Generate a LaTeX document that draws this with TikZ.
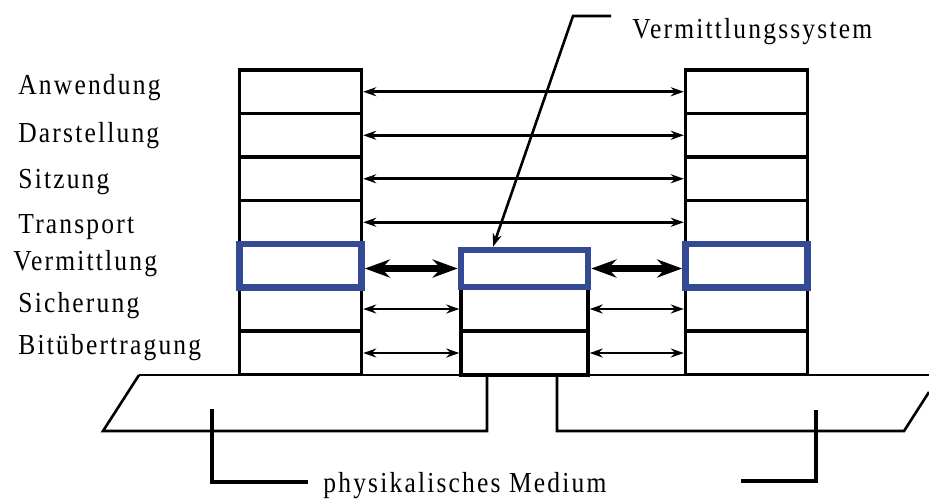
\documentclass[tikz,border=0pt]{standalone}
\usepackage{fontspec}
\setmainfont{Liberation Serif}[FakeStretch=0.88,LetterSpace=7.5]
\definecolor{colnet}{RGB}{52,74,148}
\usetikzlibrary{
	arrows.meta,
	positioning
}
\tikzset{
	>={Stealth[length=6.5pt,width=4.5pt]},
	layer/.style={draw, line width=1.7pt, minimum width=61pt, minimum height=21.75pt, inner sep=0pt},
	netlayer/.style={layer, draw=colnet, line width=3.3pt},
	peer/.style={<->, line width=1.3pt},
	netpeer/.style={{Stealth[length=12.5pt,width=9pt]}-{Stealth[length=12.5pt,width=9pt]}, line width=3.8pt},
	medium/.style={line width=1.3pt},
	bracket/.style={line width=1.8pt},
	callout/.style={->, line width=1.3pt},
	layername/.style={anchor=base west, inner sep=0pt, font=\fontsize{14.5}{17}\selectfont}
}

\begin{document}
\begin{tikzpicture}[x=0.5pt, y=-0.5pt]
	\useasboundingbox (0,0) rectangle (929,500);
	% end systems
	\foreach \stack/\x in {L/300.5, R/746.5} {
		\foreach \i in {1,2,3,4,6,7}
			\node[layer] (\stack\i) at (\x, 48.25+43.5*\i) {};
		\node[netlayer] (\stack5) at (\x, 265.75) {};
	}
	% transit system
	\node[layer, minimum width=63.5pt, minimum height=22pt] (M6) at (524.5, 309) {};
	\node[layer, minimum width=63.5pt, minimum height=22pt] (M7) at (524.5, 353) {};
	\node[netlayer, minimum width=63.5pt, minimum height=18.5pt] (M5) at (524.5, 268.5) {};
	% layer names
	\foreach \i/\name/\x/\y in {1/Anwendung/18/94, 2/Darstellung/18/142, 3/Sitzung/18/188,
			4/Transport/18/233, 5/Vermittlung/13/270, 6/Sicherung/18/312, 7/Bitübertragung/18/354}
		\node[layername] (name\i) at (\x,\y) {\name};
	% peer protocols
	\foreach \i in {1,...,4}
		\draw[peer] (L\i.east) -- (R\i.west);
	\draw[netpeer] (L5.east |- M5.west) -- (M5.west);
	\draw[netpeer] (M5.east) -- (M5.east -| R5.west);
	\foreach \i in {6,7} {
		\draw[peer] (L\i.east |- M\i.west) -- (M\i.west);
		\draw[peer] (M\i.east) -- (M\i.east -| R\i.west);
	}
	% physical medium
	\draw[medium] (139,375) -- (929,375);
	\draw[medium] (139,375) -- (103,431) -- (487,431) -- (487,375);
	\draw[medium] (557,375) -- (557,431) -- (904,431) -- (929,392);
	\node[layername] (medium) at (323,492) {physikalisches Medium};
	\coordinate (mediumL) at (212,409);
	\coordinate (mediumR) at (816,410);
	\draw[bracket] (mediumL) |- (308,482);
	\draw[bracket] (mediumR) |- (741,481);
	% transit system label
	\node[layername] (system) at (632,38) {Vermittlungssystem};
	\coordinate (systemkink) at (573,16);
	\draw[callout] (611,16) -- (systemkink) -- ([xshift=-15.75pt]M5.north);
\end{tikzpicture}
\end{document}
